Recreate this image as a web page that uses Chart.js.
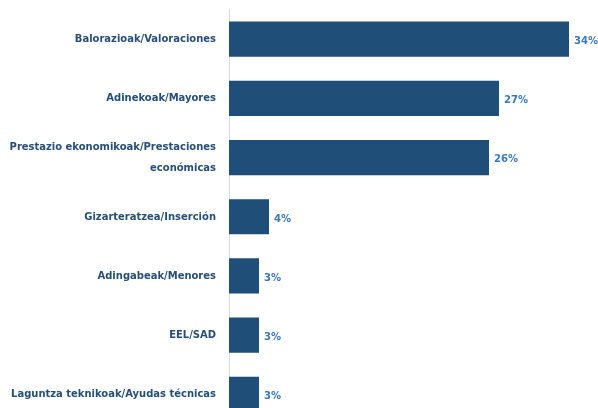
<!DOCTYPE html>
<html>
<head>
<meta charset="utf-8">
<script src="https://cdn.jsdelivr.net/npm/chart.js@4/dist/chart.umd.min.js"></script>
<style>
  html, body { margin: 0; padding: 0; background: #fff; overflow: hidden; }
  canvas { display: block; }
</style>
</head>
<body>
<canvas id="barChart" width="598" height="424"></canvas>
<script>
const categories = [
  'Balorazioak/Valoraciones',
  'Adinekoak/Mayores',
  ['Prestazio ekonomikoak/Prestaciones', 'económicas'],
  'Gizarteratzea/Inserción',
  'Adingabeak/Menores',
  'EEL/SAD',
  'Laguntza teknikoak/Ayudas técnicas'
];
const shares = [34, 27, 26, 4, 3, 3, 3];

const barColor = '#1f4e79';
const valueColor = '#3b77bf';
const labelColor = '#264e78';
const fontFamily = '"DejaVu Sans Condensed", Arial, sans-serif';

// writes "NN%" just past the end of each bar
const valueLabels = {
  id: 'valueLabels',
  afterDatasetsDraw(chart) {
    const ctx = chart.ctx;
    const meta = chart.getDatasetMeta(0);
    ctx.save();
    ctx.font = 'bold 11.2px ' + fontFamily;
    ctx.fillStyle = valueColor;
    ctx.textAlign = 'left';
    ctx.textBaseline = 'middle';
    meta.data.forEach(function (bar, i) {
      ctx.fillText(shares[i] + '%', bar.x + 5, bar.y + 2);
    });
    ctx.restore();
  }
};

new Chart(document.getElementById('barChart'), {
  type: 'bar',
  data: {
    labels: categories,
    datasets: [{
      data: shares,
      backgroundColor: barColor,
      borderWidth: 0,
      barPercentage: 1,
      categoryPercentage: 0.595
    }]
  },
  options: {
    responsive: false,
    indexAxis: 'y',
    animation: false,
    layout: { padding: { top: 9.5, left: 0, right: 0, bottom: 0 } },
    plugins: {
      legend: { display: false },
      tooltip: { enabled: false }
    },
    scales: {
      x: {
        display: false,
        min: 0,
        max: 36.9
      },
      y: {
        afterFit: function (scale) {
          scale.width = 229;
          scale.paddingTop = 0;
          scale.paddingBottom = 0;
        },
        grid: { display: false, drawTicks: false },
        border: { display: true, color: '#d9d9d9', width: 1 },
        ticks: {
          padding: 13,
          color: labelColor,
          font: { family: fontFamily, size: 11.1, weight: 'bold', lineHeight: 1.9 }
        }
      }
    }
  },
  plugins: [valueLabels]
});
</script>
</body>
</html>
